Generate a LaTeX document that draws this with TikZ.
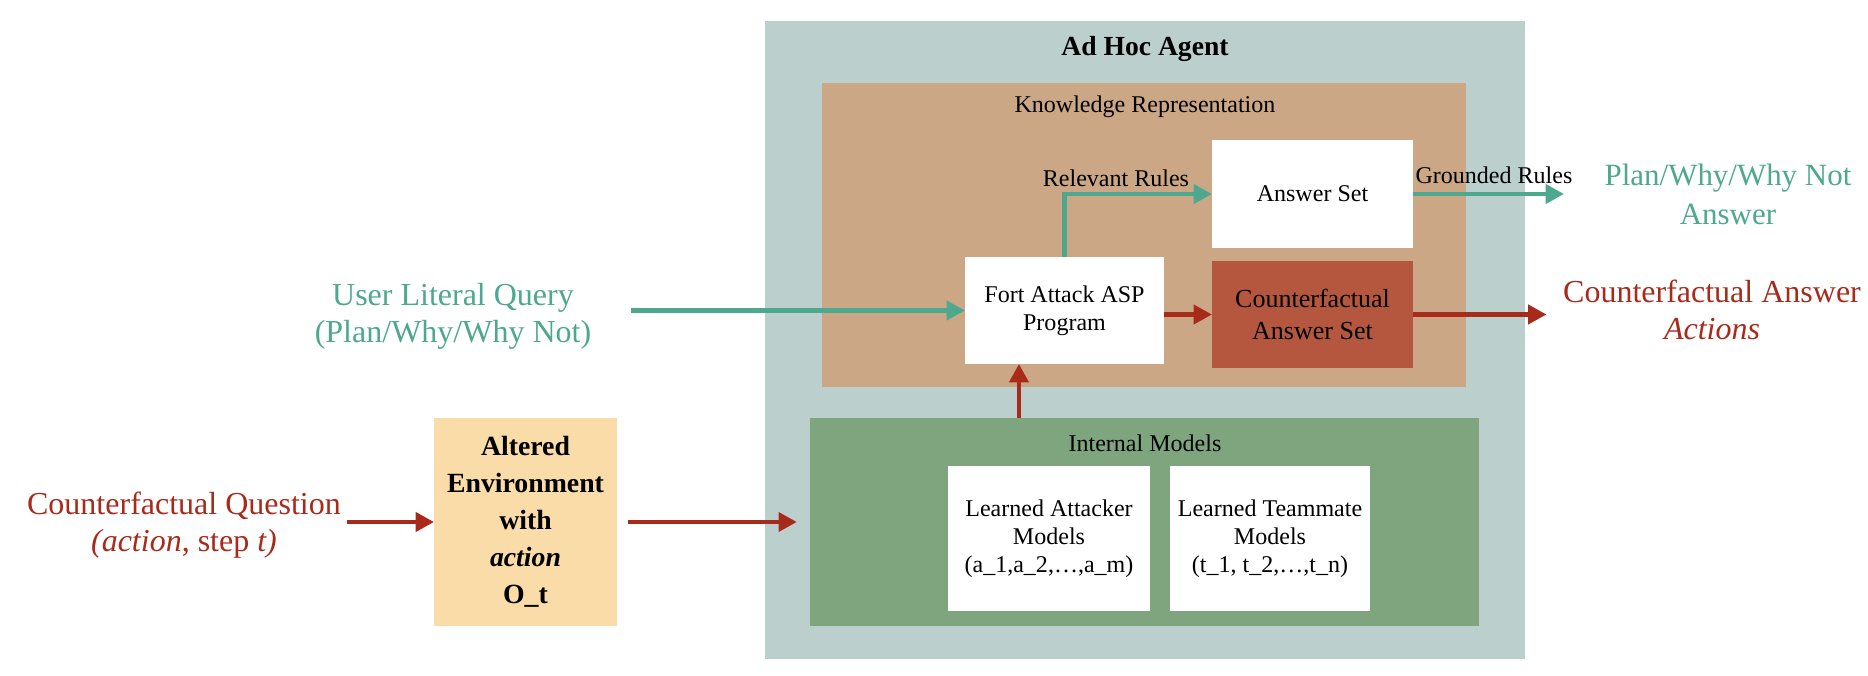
\documentclass[tikz,border=0pt]{standalone}
\usepackage{fontspec}
\setmainfont{Liberation Serif}
\usetikzlibrary{arrows.meta,calc}
\definecolor{agentbg}{HTML}{BBCFCC}
\definecolor{krbg}{HTML}{CBA786}
\definecolor{imbg}{HTML}{7FA57F}
\definecolor{cfbg}{HTML}{B4573E}
\definecolor{altbg}{HTML}{F9DCA7}
\definecolor{tealc}{HTML}{4DA88E}
\definecolor{redc}{HTML}{A82A1A}
\begin{document}
\begin{tikzpicture}[x=0.01cm,y=-0.01cm,
  box/.style={inner sep=0pt, outer sep=0pt, align=center},
  fsmall/.style={font=\fontsize{6.83pt}{7.97pt}\selectfont},
  fmid/.style={font=\fontsize{7.4pt}{9.1pt}\selectfont},
  fbig/.style={font=\fontsize{9.1pt}{10.6pt}\selectfont},
  fbigb/.style={font=\fontsize{8.8pt}{11.1pt}\selectfont},
  lbl/.style={inner sep=0pt, align=center, anchor=base},
  tealarrow/.style={draw=tealc, line width=1.14pt, -{Triangle[length=5.2pt,width=5.4pt]}},
  redarrow/.style={draw=redc, line width=1.14pt, -{Triangle[length=5.2pt,width=5.4pt]}}
]
\useasboundingbox (0,0) rectangle (1868,676);
% containers
\node[box, fill=agentbg, minimum width=7.60cm, minimum height=6.38cm] (agent) at (1145,340) {};
\node[lbl, font=\bfseries\fontsize{7.85pt}{9pt}\selectfont] (agentlabel) at (1145,56) {Ad Hoc Agent};
\node[box, fill=krbg, minimum width=6.44cm, minimum height=3.04cm] (kr) at (1144,235) {};
\node[lbl, fsmall] (krlabel) at (1145,113) {Knowledge Representation};
\node[box, fill=imbg, minimum width=6.69cm, minimum height=2.08cm] (im) at (1144.5,522) {};
\node[lbl, fsmall] (imlabel) at (1145,452) {Internal Models};
% inner boxes
\node[box, fill=white, minimum width=2.01cm, minimum height=1.08cm, fsmall] (as) at (1312.5,194) {Answer Set};
\node[box, fill=white, minimum width=1.99cm, minimum height=1.07cm, fsmall] (fort) at (1064.5,310.5) {Fort Attack ASP\\Program};
\node[box, fill=cfbg, minimum width=2.01cm, minimum height=1.07cm, fmid] (cas) at (1312.5,314.5) {Counterfactual\\Answer Set};
\node[box, fill=white, minimum width=2.02cm, minimum height=1.45cm, fsmall] (la) at (1049,538.5) {Learned Attacker\\Models\\(a\_1,a\_2,…,a\_m)};
\node[box, fill=white, minimum width=2.00cm, minimum height=1.45cm, fsmall] (lt) at (1270,538.5) {Learned Teammate\\Models\\(t\_1, t\_2,…,t\_n)};
\node[box, fill=altbg, minimum width=1.83cm, minimum height=2.08cm, font=\bfseries\fontsize{7.9pt}{10.5pt}\selectfont] (alt) at (525.5,522) {Altered\\Environment\\with\\\textit{action}\\O\_t};
% outside labels (base = baseline of last line)
\node[lbl, fbig, text=tealc] (ulq) at (453,343) {User Literal Query\\(Plan/Why/Why Not)};
\node[lbl, fbig, text=redc] (cq) at (184,552) {Counterfactual Question\\\textit{(action}, step \textit{t)}};
\node[lbl, fbigb, text=tealc] (pwa) at (1728,225) {Plan/Why/Why Not\\Answer};
\node[lbl, fbig, text=redc] (cao) at (1712,340) {Counterfactual Answer\\\textit{Actions}};
\node[lbl, fsmall] (rr) at (1116,187) {Relevant Rules};
\node[lbl, fsmall] (gr) at (1494,184) {Grounded Rules};
% connectors
\draw[tealarrow] (fort.north) |- (as.west);
\draw[tealarrow] (as.east) -- ([xshift=-0.40cm]pwa.west |- as.east);
\draw[tealarrow] ([xshift=0.39cm]ulq.east |- fort.west) -- (fort.west);
\draw[redarrow] (fort.east |- cas.west) -- (cas.west);
\draw[redarrow] (cas.east) -- ([xshift=-0.16cm]cao.west |- cas.east);
\draw[redarrow] ([xshift=-0.455cm]fort.south |- im.north) -- ([xshift=-0.455cm]fort.south);
\draw[redarrow] ([xshift=0.05cm]cq.east |- alt.west) -- (alt.west);
\draw[redarrow] ([xshift=0.11cm]alt.east) -- ([xshift=-0.13cm]im.west);
\end{tikzpicture}
\end{document}
